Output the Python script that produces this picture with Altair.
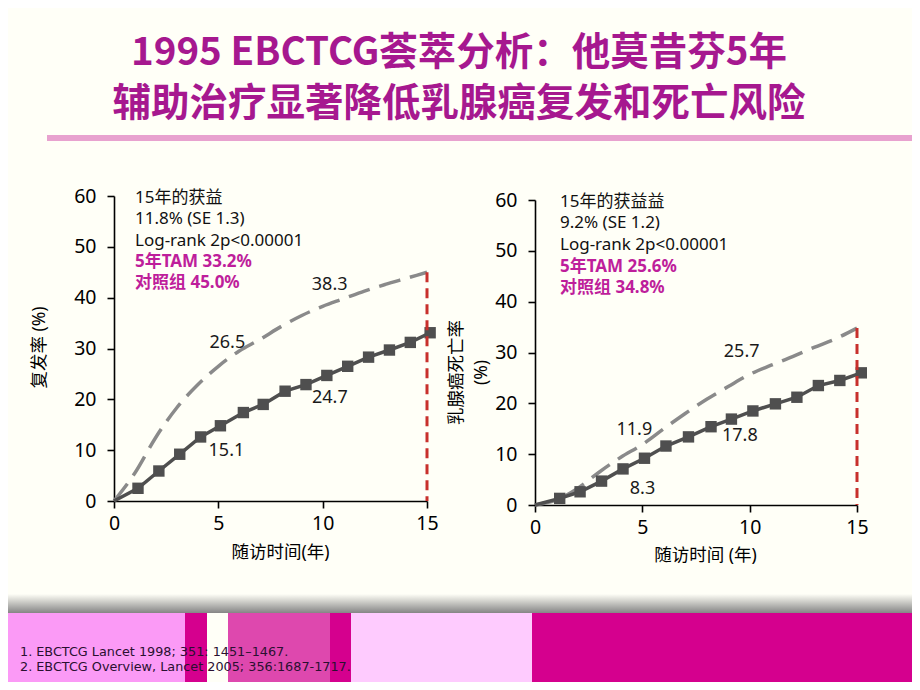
import altair as alt
import pandas as pd

# ---------------- data ----------------
TITLE_1 = "1995 EBCTCG荟萃分析：他莫昔芬5年"
TITLE_2 = "辅助治疗显著降低乳腺癌复发和死亡风险"

years = [0, 1, 2, 3, 4, 5, 6, 7, 8, 9, 10, 11, 12, 13, 14, 15]

# recurrence (left)
rec_ctrl = [0, 5.5, 12.5, 18.3, 22.8, 26.5, 29.5, 31.8, 34.3, 36.5, 38.3, 39.8, 41.3, 42.6, 43.8, 45.0]
rec_tam_years = [0, 1.15, 2.15, 3.15, 4.15, 5.1, 6.2, 7.15, 8.2, 9.2, 10.2, 11.2, 12.2, 13.2, 14.2, 15.15]
rec_tam = [0, 2.5, 5.9, 9.2, 12.6, 14.8, 17.4, 19.0, 21.6, 22.9, 24.7, 26.5, 28.3, 29.7, 31.2, 33.1]

# breast cancer mortality (right)
mort_ctrl = [0, 1.0, 3.3, 6.5, 9.4, 11.9, 15.0, 18.0, 20.8, 23.3, 25.7, 27.5, 29.2, 31.0, 32.7, 34.8]
mort_tam_years = [0, 1.15, 2.1, 3.1, 4.1, 5.1, 6.1, 7.15, 8.2, 9.15, 10.15, 11.2, 12.2, 13.2, 14.2, 15.2]
mort_tam = [0, 1.3, 2.6, 4.7, 7.1, 9.2, 11.6, 13.4, 15.4, 16.9, 18.5, 19.9, 21.2, 23.5, 24.5, 26.0]

# labels: control@5, control@10, TAM@5, TAM@10
rec_labels = ["26.5", "38.3", "15.1", "24.7"]
mort_labels = ["11.9", "25.7", "8.3", "17.8"]

rec_notes = ["15年的获益", "11.8% (SE 1.3)", "Log-rank 2p<0.00001"]
rec_notes_hi = ["5年TAM 33.2%", "对照组 45.0%"]
mort_notes = ["15年的获益益", "9.2% (SE 1.2)", "Log-rank 2p<0.00001"]
mort_notes_hi = ["5年TAM 25.6%", "对照组 34.8%"]

x_ticks = [0, 5, 10, 15]
y_ticks = [0, 10, 20, 30, 40, 50, 60]

refs = ["1. EBCTCG Lancet 1998; 351: 1451\u20131467.",
        "2. EBCTCG Overview, Lancet 2005; 356:1687-1717."]

# ---------------- style ----------------
W, H = 904, 674
BG = "#FFFFF7"
FONT = "Noto Sans"
MIX = "Noto Sans, Noto Sans CJK SC"
CJK = "Noto Sans CJK SC"
TITLE_COLOR = "#A6188F"
HI_COLOR = "#BE1E9B"
TAM_COLOR = "#4F4F4F"
CTRL_COLOR = "#8A8A8A"
RED = "#C8302C"

dummy = pd.DataFrame({"k": [0]})


def panel(ctrl, tam_x, tam_y, labels, label_offsets, notes, notes_hi,
          note_pos, xr, yr, xtitle, xtitle_pos, ytitle, ytitle_pos):
    xs = alt.Scale(domain=[0, 15], range=xr, nice=False, zero=False)
    ys = alt.Scale(domain=[0, 60], range=yr, nice=False, zero=False)
    common = dict(domainColor="black", domainWidth=1.6, tickColor="black",
                  tickWidth=1.6, tickSize=7, grid=False, labelFlush=False,
                  labelFont=FONT, labelFontSize=19.5, labelColor="black",
                  titleFont=MIX, titleFontSize=17.5, titleFontWeight="normal",
                  titleColor="black")
    x_axis = alt.Axis(orient="bottom", offset=yr[0] - H, values=x_ticks,
                      labelPadding=6, title=xtitle, titleX=xtitle_pos[0],
                      titleY=xtitle_pos[1], titleBaseline="middle",
                      titleAlign="center", **common)
    y_axis = alt.Axis(orient="left", offset=-xr[0], values=y_ticks,
                      labelPadding=11, title=ytitle, titleX=ytitle_pos[0],
                      titleY=ytitle_pos[1], titleBaseline="middle",
                      titleAlign="center", titleAngle=270, titleLineHeight=25,
                      **common)

    ctrl_df = pd.DataFrame({"year": years, "pct": ctrl})
    tam_df = pd.DataFrame({"year": tam_x, "pct": tam_y})

    def X(ax=None):
        return alt.X("year:Q", scale=xs, axis=ax)

    def Y(ax=None):
        return alt.Y("pct:Q", scale=ys, axis=ax)

    ctrl_line = alt.Chart(ctrl_df).mark_line(
        color=CTRL_COLOR, strokeWidth=3.5, strokeDash=[22, 10],
        interpolate="monotone").encode(x=X(x_axis), y=Y(y_axis))
    tam_line = alt.Chart(tam_df).mark_line(
        color=TAM_COLOR, strokeWidth=3.5).encode(x=X(), y=Y())
    tam_pts = alt.Chart(tam_df.iloc[1:]).mark_point(
        shape="square", filled=True, size=130, color=TAM_COLOR,
        opacity=1).encode(x=X(), y=Y())
    red = alt.Chart(ctrl_df.iloc[[-1]]).mark_rule(
        color=RED, strokeWidth=3, strokeDash=[10, 6]).encode(
        x=X(), y=Y(), y2=alt.Y2Datum(0))

    pts = [(years[5], ctrl[5]), (years[10], ctrl[10]),
           (tam_x[5], tam_y[5]), (tam_x[10], tam_y[10])]
    label_layers = []
    for (px, py), txt, (dx, dy) in zip(pts, labels, label_offsets):
        label_layers.append(
            alt.Chart(dummy).mark_text(
                font=FONT, fontSize=18, color="#1A1A1A", dx=dx, dy=dy,
                align="center", baseline="middle").encode(
                x=alt.XDatum(px, type="quantitative", scale=xs, axis=None),
                y=alt.YDatum(py, type="quantitative", scale=ys, axis=None),
                text=alt.value(txt)))

    n1 = alt.Chart(dummy).mark_text(
        font=MIX, fontSize=17, color="#111111", align="left",
        baseline="middle", lineHeight=21.3).encode(
        x=alt.value(note_pos[0]), y=alt.value(note_pos[1]),
        text=alt.value(notes))
    n2 = alt.Chart(dummy).mark_text(
        font=MIX, fontSize=17, fontWeight="bold", color=HI_COLOR,
        align="left", baseline="middle", lineHeight=21.3).encode(
        x=alt.value(note_pos[0]), y=alt.value(note_pos[2]),
        text=alt.value(notes_hi))

    return [ctrl_line, tam_line, tam_pts, red, *label_layers, n1, n2]


left = panel(rec_ctrl, rec_tam_years, rec_tam, rec_labels,
             [(9, -23), (7, -21), (6, 25), (3, 23)],
             rec_notes, rec_notes_hi, (127, 190, 254),
             [106, 419], [493, 188],
             "随访时间(年)", (272, 51), "复发率 (%)", (-75, 339))

right = panel(mort_ctrl, mort_tam_years, mort_tam, mort_labels,
              [(-8, -15), (-8, -22), (-2, 31), (-13, 25)],
              mort_notes, mort_notes_hi, (552, 194, 258.5),
              [527, 849], [497, 192],
              "随访时间 (年)", (697, 50), ["乳腺癌死亡率", "(%)"], (-79, 364))

# ---------------- decorations ----------------
title1 = alt.Chart(dummy).mark_text(
    font=CJK, fontSize=38.5, fontWeight="bold", color=TITLE_COLOR,
    align="center", baseline="middle").encode(
    x=alt.value(451), y=alt.value(45), text=alt.value(TITLE_1))
title2 = alt.Chart(dummy).mark_text(
    font=CJK, fontSize=38.5, fontWeight="bold", color=TITLE_COLOR,
    align="center", baseline="middle").encode(
    x=alt.value(451), y=alt.value(96), text=alt.value(TITLE_2))
pink_rule = alt.Chart(dummy).mark_rect(color="#E8A2CF").encode(
    x=alt.value(39), x2=alt.value(W), y=alt.value(127), y2=alt.value(133))

shadow = alt.Chart(dummy).mark_rect(
    fill=alt.Gradient(gradient="linear",
                      stops=[alt.GradientStop(color=BG, offset=0),
                             alt.GradientStop(color="#858585", offset=1)],
                      x1=0, x2=0, y1=0, y2=1)).encode(
    x=alt.value(0), x2=alt.value(W), y=alt.value(586), y2=alt.value(605))

blocks_spec = [(0, 177, "#FB9AF6"), (177, 199, "#D5008E"), (199, 220, "#FFFFF7"),
               (220, 322, "#DE48AE"), (322, 343, "#D5008E"), (343, 524, "#FECBFE"),
               (524, W, "#D5008E")]
blocks = [alt.Chart(dummy).mark_rect(color=c).encode(
    x=alt.value(a), x2=alt.value(b), y=alt.value(605), y2=alt.value(H))
    for a, b, c in blocks_spec]

ref_text = alt.Chart(dummy).mark_text(
    font="DejaVu Sans", fontSize=12.8, color="#2A1030", align="left",
    baseline="middle", lineHeight=15).encode(
    x=alt.value(12), y=alt.value(644), text=alt.value(refs))

chart = alt.layer(
    shadow, *blocks, ref_text, pink_rule, title1, title2, *left, *right
).resolve_scale(x="independent", y="independent").resolve_axis(
    x="independent", y="independent"
).properties(
    width=W, height=H, padding=0,
    autosize=alt.AutoSizeParams(type="none"),
    background=BG,
).configure_view(strokeWidth=0)

chart.save("out.html", embed_options={"renderer": "svg", "actions": False})
